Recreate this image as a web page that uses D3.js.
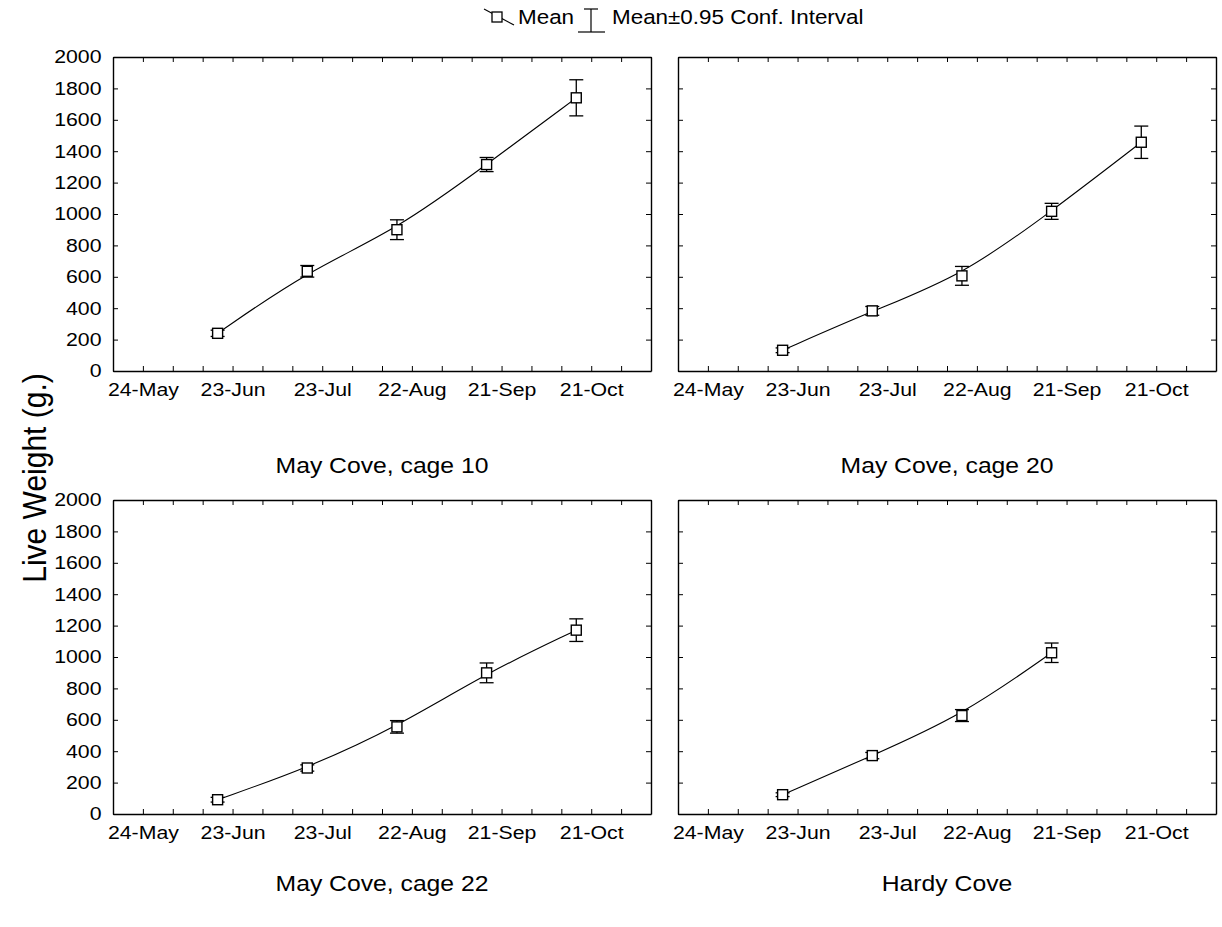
<!DOCTYPE html>
<html><head><meta charset="utf-8">
<script src="https://cdn.jsdelivr.net/npm/d3@7"></script>
<style>
body{margin:0;background:#fff}
text{font-family:"Liberation Sans",Arial,sans-serif;fill:#000}
</style>
</head><body>
<svg id="c" width="1222" height="927"></svg>
<script>
// ---- data ----
const sampleDates = ["2001-06-18","2001-07-18","2001-08-17","2001-09-16","2001-10-16"];
const cage10Mean = [240, 635, 900, 1315, 1740];
const cage10CI   = [20, 37, 63, 45, 115];
const cage20Mean = [132, 383, 606, 1017, 1457];
const cage20CI   = [15, 28, 60, 51, 103];
const cage22Mean = [91, 293, 555, 899, 1171];
const cage22CI   = [15, 20, 40, 63, 72];
const hardyMean  = [123, 372, 627, 1027];
const hardyCI    = [12, 20, 38, 62];
const xTickLabels = ["24-May","23-Jun","23-Jul","22-Aug","21-Sep","21-Oct"];
const yTicks = [0,200,400,600,800,1000,1200,1400,1600,1800,2000];
const xDomain = ["2001-05-14","2001-11-10"];
const panelTitles = ["May Cove, cage 10","May Cove, cage 20","May Cove, cage 22","Hardy Cove"];
const yTitle = "Live Weight (g.)";
const legendMean = "Mean";
const legendCI = "Mean\u00B10.95 Conf. Interval";

// ---- layout ----
const SX = 1.15;           // horizontal stretch of the scanned lettering
const W = 538, H = 314;
const parse = d3.utcParse("%Y-%m-%d");
const fmt = d3.utcFormat("%d-%b");
const svg = d3.select("#c");

const panels = [
  {title:panelTitles[0], mean:cage10Mean, ci:cage10CI, left:113, top:57,  showY:true,  titleY:473},
  {title:panelTitles[1], mean:cage20Mean, ci:cage20CI, left:678, top:57,  showY:false, titleY:473},
  {title:panelTitles[2], mean:cage22Mean, ci:cage22CI, left:113, top:500, showY:true,  titleY:891},
  {title:panelTitles[3], mean:hardyMean,  ci:hardyCI,  left:678, top:500, showY:false, titleY:891}
];

const x = d3.scaleUtc().domain(xDomain.map(parse)).range([0, W]);
const y = d3.scaleLinear().domain([0, 2000]).range([H, 0]);
const xTicks = d3.utcDay.range(parse(xDomain[0]), d3.utcDay.offset(parse(xDomain[1]), 1), 10);
const labelSet = new Set(xTickLabels);

function styleAxis(g){
  g.select(".domain").attr("stroke","#000").attr("stroke-width",1.4);
  g.selectAll(".tick line").attr("stroke","#000").attr("stroke-width",1);
  g.selectAll("text").attr("fill","#000").attr("font-size",18.5)
    .attr("font-family",'"Liberation Sans",Arial,sans-serif')
    .attr("transform",`scale(${SX},1)`);
}

panels.forEach(p => {
  const g = svg.append("g").attr("transform",`translate(${p.left},${p.top})`);
  // axes (ticks point inward on all four sides)
  g.append("g").attr("transform",`translate(0,${H})`)
    .call(d3.axisBottom(x).tickValues(xTicks).tickSize(-5).tickSizeOuter(0).tickPadding(12)
      .tickFormat(d => labelSet.has(fmt(d)) ? fmt(d) : ""))
    .call(styleAxis);
  g.append("g")
    .call(d3.axisTop(x).tickValues(xTicks).tickSize(-5).tickSizeOuter(0).tickFormat(""))
    .call(styleAxis);
  g.append("g")
    .call(d3.axisLeft(y).tickValues(yTicks).tickSize(-5).tickSizeOuter(0).tickPadding(10)
      .tickFormat(p.showY ? d3.format("d") : ""))
    .call(styleAxis);
  g.append("g").attr("transform",`translate(${W},0)`)
    .call(d3.axisRight(y).tickValues(yTicks).tickSize(-5).tickSizeOuter(0).tickFormat(""))
    .call(styleAxis);

  const pts = p.mean.map((m,i) => ({d:parse(sampleDates[i]), m, c:p.ci[i]}));
  // fitted line
  g.append("path").datum(pts)
    .attr("fill","none").attr("stroke","#000").attr("stroke-width",1.1)
    .attr("d", d3.line().x(d=>x(d.d)).y(d=>y(d.m)).curve(d3.curveBasis));
  // error bars
  const eb = g.append("g").attr("stroke","#000").attr("stroke-width",1.3).attr("fill","none");
  pts.forEach(d => {
    const cx = x(d.d);
    eb.append("line").attr("x1",cx).attr("x2",cx).attr("y1",y(d.m+d.c)).attr("y2",y(d.m-d.c));
    eb.append("line").attr("x1",cx-7).attr("x2",cx+7).attr("y1",y(d.m+d.c)).attr("y2",y(d.m+d.c));
    eb.append("line").attr("x1",cx-7).attr("x2",cx+7).attr("y1",y(d.m-d.c)).attr("y2",y(d.m-d.c));
  });
  // markers
  g.append("g").selectAll("rect").data(pts).join("rect")
    .attr("x",d=>x(d.d)-5).attr("y",d=>y(d.m)-5).attr("width",10).attr("height",10)
    .attr("fill","#fff").attr("stroke","#000").attr("stroke-width",1.4);

  // panel title
  svg.append("text").attr("text-anchor","middle").attr("font-size",21.5)
    .attr("transform",`translate(${p.left + W/2},${p.titleY}) scale(${SX},1)`)
    .text(p.title);
});

// y-axis title
svg.append("text").attr("text-anchor","middle").attr("font-size",30)
  .attr("transform","translate(46,478) rotate(-90) scale(1,1.08)")
  .text(yTitle);

// legend
const lg = svg.append("g");
lg.append("line").attr("x1",484).attr("y1",9).attr("x2",514).attr("y2",25).attr("stroke","#000").attr("stroke-width",1.1);
lg.append("rect").attr("x",492).attr("y",12).attr("width",10).attr("height",10)
  .attr("fill","#fff").attr("stroke","#000").attr("stroke-width",1.3);
lg.append("text").attr("font-size",19.5)
  .attr("transform",`translate(518,24) scale(${SX},1)`).text(legendMean);
lg.append("line").attr("x1",591).attr("x2",591).attr("y1",9).attr("y2",32).attr("stroke","#000").attr("stroke-width",1.2);
lg.append("line").attr("x1",584).attr("x2",598).attr("y1",9).attr("y2",9).attr("stroke","#000").attr("stroke-width",1.2);
lg.append("line").attr("x1",578).attr("x2",605).attr("y1",32).attr("y2",32).attr("stroke","#000").attr("stroke-width",1.2);
lg.append("text").attr("font-size",19.5)
  .attr("transform",`translate(612,24) scale(${SX},1)`).text(legendCI);
</script>
</body></html>
